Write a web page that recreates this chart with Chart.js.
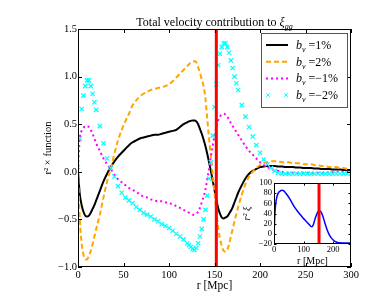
<!DOCTYPE html>
<html>
<head>
<meta charset="utf-8">
<script src="https://cdn.jsdelivr.net/npm/chart.js@4.4.1/dist/chart.umd.min.js"></script>
<style>
    html, body { margin: 0; padding: 0; background: #fff; }
    #wrap { position: relative; width: 390px; height: 298px; }
    #main { position: absolute; left: 0; top: 0; }
    #inset { position: absolute; left: 240px; top: 176px; }
</style>
</head>
<body>
<div id="wrap">
    <canvas id="main" width="390" height="298"></canvas>
    <canvas id="inset" width="115" height="92"></canvas>
</div>
<script>
// ===== data
const rGrid = [0, 2, 4, 6, 8, 10, 12, 14, 16, 18, 20,
    24, 28, 32, 36, 40, 44, 48, 52, 56, 60, 64, 68, 72, 76, 80, 84, 88, 92, 96, 100, 104, 108, 112, 116, 120,
    122, 124, 126, 128, 130, 132, 134, 136, 138, 140, 142, 144, 146, 148, 150, 152, 154, 156, 158, 160, 162, 164, 166, 168, 170, 172, 174, 176,
    180, 184, 188, 192, 196, 200, 204, 208, 212, 216, 220, 224, 228, 232, 236, 240, 244, 248, 252, 256, 260, 264, 268, 272, 276, 280, 284, 288, 292, 296, 300];

const bvPlus1 = [0, -0.24, -0.35, -0.42, -0.46, -0.47, -0.46, -0.43, -0.39, -0.35, -0.3,
    -0.2, -0.1, -0.02, 0.05, 0.11, 0.16, 0.2, 0.24, 0.28, 0.31, 0.33, 0.35, 0.36, 0.37, 0.38, 0.39, 0.39, 0.4, 0.41, 0.42, 0.43, 0.44, 0.47, 0.5, 0.52,
    0.53, 0.535, 0.54, 0.54, 0.53, 0.5, 0.45, 0.4, 0.34, 0.27, 0.19, 0.1, 0.01, -0.09, -0.19, -0.29, -0.38, -0.44, -0.48, -0.49, -0.48, -0.47, -0.44, -0.41, -0.37, -0.32, -0.27, -0.22,
    -0.14, -0.07, -0.02, 0.01, 0.03, 0.05, 0.055, 0.06, 0.06, 0.06, 0.055, 0.055, 0.05, 0.05, 0.05, 0.045, 0.045, 0.04, 0.04, 0.04, 0.035, 0.035, 0.03, 0.03, 0.03, 0.025, 0.025, 0.025, 0.02, 0.02, 0.02];

const bvPlus2 = [0, -0.5, -0.75, -0.87, -0.92, -0.92, -0.88, -0.83, -0.76, -0.68, -0.6,
    -0.45, -0.27, -0.1, 0.03, 0.19, 0.33, 0.44, 0.53, 0.61, 0.7, 0.75, 0.79, 0.82, 0.84, 0.86, 0.87, 0.88, 0.89, 0.9, 0.92, 0.95, 0.99, 1.03, 1.07, 1.11,
    1.13, 1.15, 1.16, 1.16, 1.15, 1.1, 1.04, 0.97, 0.9, 0.77, 0.56, 0.35, 0.16, -0.03, -0.22, -0.41, -0.58, -0.7, -0.78, -0.83, -0.84, -0.82, -0.76, -0.68, -0.6, -0.52, -0.44, -0.37,
    -0.24, -0.13, -0.05, 0, 0.04, 0.07, 0.09, 0.1, 0.11, 0.11, 0.11, 0.1, 0.1, 0.1, 0.09, 0.09, 0.09, 0.08, 0.08, 0.08, 0.07, 0.07, 0.06, 0.06, 0.05, 0.05, 0.05, 0.04, 0.04, 0.03, 0.03];

const bvMinus1 = [0.05, 0.36, 0.43, 0.46, 0.48, 0.48, 0.47, 0.44, 0.4, 0.35, 0.3,
    0.22, 0.14, 0.08, 0.03, -0.03, -0.08, -0.11, -0.14, -0.17, -0.19, -0.21, -0.24, -0.26, -0.27, -0.29, -0.3, -0.31, -0.31, -0.32, -0.33, -0.34, -0.36, -0.38, -0.4, -0.42,
    -0.43, -0.44, -0.45, -0.45, -0.44, -0.42, -0.38, -0.32, -0.26, -0.19, -0.08, 0.03, 0.15, 0.27, 0.38, 0.47, 0.54, 0.58, 0.6, 0.61, 0.6, 0.58, 0.55, 0.51, 0.48, 0.45, 0.42, 0.39,
    0.33, 0.27, 0.22, 0.18, 0.14, 0.1, 0.07, 0.05, 0.03, 0.02, 0.01, 0, -0.01, -0.01, -0.01, -0.01, -0.01, -0.01, -0.01, -0.01, -0.01, -0.01, -0.01, -0.01, -0.005, -0.005, 0, 0, 0, 0, 0];

const bvMinus2 = [0.05, 0.35, 0.66, 0.8, 0.9, 0.96, 0.96, 0.9, 0.82, 0.73, 0.65,
    0.48, 0.3, 0.14, 0.04, -0.05, -0.15, -0.22, -0.27, -0.3, -0.33, -0.37, -0.4, -0.43, -0.45, -0.47, -0.5, -0.52, -0.55, -0.57, -0.59, -0.62, -0.65, -0.68, -0.71, -0.75,
    -0.77, -0.79, -0.81, -0.82, -0.8, -0.75, -0.68, -0.6, -0.5, -0.4, -0.25, -0.07, 0.1, 0.38, 0.68, 0.92, 1.12, 1.24, 1.31, 1.35, 1.35, 1.31, 1.25, 1.17, 1.09, 1, 0.93, 0.86,
    0.7, 0.58, 0.47, 0.37, 0.28, 0.2, 0.13, 0.08, 0.04, 0.01, -0.01, -0.02, -0.02, -0.02, -0.02, -0.02, -0.02, -0.02, -0.02, -0.02, -0.02, -0.02, -0.02, -0.02, -0.02, -0.02, -0.02, -0.02, -0.02, -0.02, -0.02];

const seriesPct = ["1%", "2%", "\u22121%", "\u22122%"];
const baoR = 152;

const xTicks = [0, 50, 100, 150, 200, 250, 300];
const yTicks = [-1, -0.5, 0, 0.5, 1, 1.5];

// inset: r^2 xi
const insetR = [0, 1, 2, 3, 5, 7, 9, 12, 15, 20, 26, 32, 40, 50, 60, 65, 70, 80, 90, 100, 110, 118, 124, 128, 132, 136, 140, 144, 148, 152, 156, 160, 164, 168, 172, 176, 180, 186, 192, 200, 210, 220, 240, 260];
const insetXi = [-8, 10, 27, 40, 55, 65, 71, 77, 81, 84, 86, 85, 80, 72, 62, 57, 52, 44, 37, 30, 24, 19, 15, 14, 17, 24, 32, 38, 43, 45, 45, 42, 36, 29, 21, 14, 7, -1, -7, -12, -16, -17.5, -18, -18];
const insetXTicks = [0, 100, 200];
const insetYTicks = [-20, 0, 20, 40, 60, 80, 100];

// ===== style
const SERIF = "'Liberation Serif', 'Times New Roman', serif";
Chart.defaults.font.family = SERIF;
Chart.defaults.color = "#000";

const pts = (xs, ys) => xs.map((x, i) => ({ x, y: ys[i] }));
const minus = (s) => String(s).replace("-", "\u2212");

const series = [
    { data: bvPlus1, color: "#000000", dash: [], kind: "line" },
    { data: bvPlus2, color: "#ffa500", dash: [5, 3], kind: "line" },
    { data: bvMinus1, color: "#ff00ff", dash: [2, 3], kind: "line" },
    { data: bvMinus2, color: "#00ffff", dash: [], kind: "cross" },
];

// frame + inward ticks like matplotlib
const framePlugin = {
    id: "frame",
    beforeDatasetsDraw(chart, args, opts) {
        if (!opts.fill) return;
        const { ctx, chartArea: a } = chart;
        ctx.save();
        ctx.fillStyle = "#fff";
        ctx.fillRect(a.left, a.top, a.width, a.height);
        ctx.restore();
    },
    afterDatasetsDraw(chart, args, opts) {
        const { ctx, chartArea: a, scales } = chart;
        const len = opts.tick || 4;
        ctx.save();
        ctx.strokeStyle = "#000";
        ctx.lineWidth = 1;
        ctx.beginPath();
        scales.x.ticks.forEach((t) => {
            const x = Math.round(scales.x.getPixelForValue(t.value)) + 0.5;
            ctx.moveTo(x, a.bottom); ctx.lineTo(x, a.bottom - len);
            ctx.moveTo(x, a.top); ctx.lineTo(x, a.top + len);
        });
        scales.y.ticks.forEach((t) => {
            const y = Math.round(scales.y.getPixelForValue(t.value)) + 0.5;
            ctx.moveTo(a.left, y); ctx.lineTo(a.left + len, y);
            ctx.moveTo(a.right, y); ctx.lineTo(a.right - len, y);
        });
        ctx.stroke();
        ctx.strokeRect(Math.round(a.left) + 0.5, Math.round(a.top) + 0.5, Math.round(a.width) - 1, Math.round(a.height) - 1);
        ctx.restore();
    },
};

// text with sub-scripts, parts = [text, font, dy]
function drawRich(ctx, x, y, parts, align) {
    let w = 0;
    parts.forEach(([t, f]) => { ctx.font = f + " " + SERIF; w += ctx.measureText(t).width; });
    let cx = align === "center" ? x - w / 2 : x;
    ctx.textAlign = "left";
    ctx.textBaseline = "alphabetic";
    parts.forEach(([t, f, dy]) => {
        ctx.font = f + " " + SERIF;
        ctx.fillText(t, cx, y + (dy || 0));
        cx += ctx.measureText(t).width;
    });
}

const titleLegendPlugin = {
    id: "titleLegend",
    afterDraw(chart) {
        const { ctx, chartArea: a } = chart;
        ctx.save();
        ctx.fillStyle = "#000";
        drawRich(ctx, (a.left + a.right) / 2, 26, [
            ["Total velocity contribution to ", "12px"],
            ["\u03be", "italic 12px"],
            ["gg", "italic 8px", 3],
        ], "center");

        // legend box
        const bx = 261.5, by = 33.5, bw = 86, bh = 74;
        ctx.fillStyle = "#fff";
        ctx.fillRect(bx, by, bw, bh);
        ctx.strokeStyle = "#555";
        ctx.lineWidth = 1;
        ctx.strokeRect(bx, by, bw, bh);

        series.forEach((s, i) => {
            const y = 45 + i * 16.7;
            if (s.kind === "line") {
                ctx.save();
                ctx.strokeStyle = s.color;
                ctx.lineWidth = 2;
                ctx.setLineDash(s.dash);
                ctx.beginPath();
                ctx.moveTo(266, y);
                ctx.lineTo(288, y);
                ctx.stroke();
                ctx.restore();
            } else {
                ctx.save();
                ctx.strokeStyle = s.color;
                [268, 286].forEach((px) => Chart.helpers.drawPoint(ctx, { pointStyle: "crossRot", radius: 2.5, borderWidth: 1 }, px, y));
                ctx.restore();
            }
            ctx.fillStyle = "#000";
            drawRich(ctx, 296, y + 4, [
                ["b", "italic 12px"],
                ["v", "italic 8px", 3],
                [" =" + seriesPct[i], "12px"],
            ]);
        });
        ctx.restore();
    },
};

// ===== MAIN chart
const mainSets = series.map((s, i) => ({
    label: "b_v =" + seriesPct[i],
    data: pts(rGrid, s.data),
    borderColor: s.color,
    backgroundColor: s.color,
    borderWidth: 2,
    borderDash: s.dash,
    showLine: s.kind === "line",
    pointRadius: s.kind === "line" ? 0 : 3,
    pointStyle: "crossRot",
    pointBorderWidth: 1.2,
    pointBorderColor: s.color,
    cubicInterpolationMode: "monotone",
    order: 10 - i,
}));
mainSets.push({
    label: "BAO",
    data: [{ x: baoR, y: yTicks[0] }, { x: baoR, y: yTicks[yTicks.length - 1] }],
    borderColor: "#ff0000",
    borderWidth: 3,
    pointRadius: 0,
    order: 0,
});

new Chart(document.getElementById("main"), {
    type: "line",
    data: { datasets: mainSets },
    options: {
        responsive: false,
        animation: false,
        events: [],
        layout: { padding: { top: 29, right: 39, left: 0, bottom: 0 } },
        plugins: { legend: { display: false }, tooltip: { enabled: false }, frame: { tick: 4 } },
        scales: {
            x: {
                type: "linear",
                min: xTicks[0],
                max: xTicks[xTicks.length - 1],
                afterBuildTicks: (s) => { s.ticks = xTicks.map((v) => ({ value: v })); },
                afterFit: (s) => { s.height = 31; },
                grid: { display: false, drawTicks: false },
                border: { display: false },
                ticks: { autoSkip: false, maxRotation: 0, padding: 2, font: { size: 10.5 }, callback: (v) => minus(v) },
                title: { display: true, text: "r [Mpc]", font: { size: 11.5 }, padding: { top: 0, bottom: 5 } },
            },
            y: {
                min: yTicks[0],
                max: yTicks[yTicks.length - 1],
                afterBuildTicks: (s) => { s.ticks = yTicks.map((v) => ({ value: v })); },
                afterFit: (s) => { s.width = 78; },
                grid: { display: false, drawTicks: false },
                border: { display: false },
                ticks: { autoSkip: false, padding: 1, font: { size: 10.5 }, callback: (v) => minus(v.toFixed(1)) },
                title: { display: true, text: "r\u00b2 \u00d7 function", font: { size: 10.5 }, padding: { top: 42, bottom: 0 } },
            },
        },
    },
    plugins: [framePlugin, titleLegendPlugin],
});

// ===== INSET chart
new Chart(document.getElementById("inset"), {
    type: "line",
    data: {
        datasets: [
            {
                label: "r2xi",
                data: pts(insetR, insetXi),
                borderColor: "#0000ff",
                borderWidth: 1.5,
                pointRadius: 0,
                cubicInterpolationMode: "monotone",
                order: 2,
            },
            {
                label: "BAO",
                data: [{ x: baoR, y: insetYTicks[0] }, { x: baoR, y: insetYTicks[insetYTicks.length - 1] }],
                borderColor: "#ff0000",
                borderWidth: 3,
                pointRadius: 0,
                order: 1,
            },
        ],
    },
    options: {
        responsive: false,
        animation: false,
        events: [],
        layout: { padding: { top: 7, right: 4, left: 0, bottom: 0 } },
        plugins: { legend: { display: false }, tooltip: { enabled: false }, frame: { tick: 2.5, fill: true } },
        scales: {
            x: {
                type: "linear",
                min: 0,
                max: 260,
                afterBuildTicks: (s) => { s.ticks = insetXTicks.map((v) => ({ value: v })); },
                afterFit: (s) => { s.height = 24; },
                grid: { display: false, drawTicks: false },
                border: { display: false },
                ticks: { autoSkip: false, maxRotation: 0, padding: 1, font: { size: 8.5 } },
                title: { display: true, text: "r [Mpc]", font: { size: 10 }, padding: { top: 0, bottom: 1 } },
            },
            y: {
                min: insetYTicks[0],
                max: insetYTicks[insetYTicks.length - 1],
                afterBuildTicks: (s) => { s.ticks = insetYTicks.map((v) => ({ value: v })); },
                afterFit: (s) => { s.width = 34; },
                grid: { display: false, drawTicks: false },
                border: { display: false },
                ticks: { autoSkip: false, padding: 2, font: { size: 8.5 }, callback: (v) => minus(v) },
                title: { display: true, text: "r\u00b2 \u03be", font: { size: 10, style: "italic" }, padding: { top: 1, bottom: 0 } },
            },
        },
    },
    plugins: [framePlugin],
});
</script>
</body>
</html>
